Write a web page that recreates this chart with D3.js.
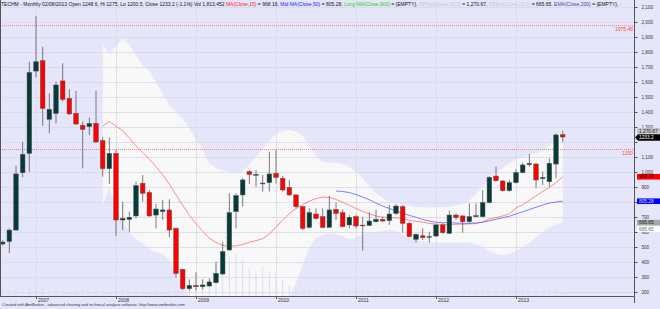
<!DOCTYPE html>
<html>
<head>
<meta charset="utf-8">
<script src="https://cdn.jsdelivr.net/npm/d3@7"></script>
<style>
  html, body { margin: 0; padding: 0; background: #e6e6fa; }
  svg { display: block; font-family: "Liberation Sans", Arial, sans-serif; }
</style>
</head>
<body>
<div id="chart"></div>
<script>
"use strict"

// TECHM monthly bars, Aug 2006 .. Aug 2013
var months = d3.timeMonth.range(new Date(2006, 7, 1), new Date(2013, 8, 1))

var open_px = [520, 537, 613, 995, 1124, 1673, 1742, 1351, 1391, 1607, 1491, 1391, 1311, 1302, 1324,
    1209, 1022, 1124, 680, 684, 707, 925, 864, 713, 736, 747, 624, 351, 222, 244,
    235, 240, 262, 320, 480, 736, 847, 1002, 978, 924, 929, 991, 958, 897, 847,
    769, 631, 720, 702, 631, 751, 729, 647, 702, 646, 644, 669, 684, 676, 724,
    769, 658, 551, 575, 567, 573, 647, 591, 713, 707, 669, 702, 702, 796, 973,
    940, 876, 929, 996, 1049, 1053, 956, 935, 1053, 1248.6]
var high_px = [545, 624, 1040, 1200, 1735, 2040, 1835, 1524, 1602, 1724, 1551, 1540, 1336, 1362, 1540,
    1231, 1231, 1147, 802, 735, 935, 980, 880, 787, 813, 818, 630, 355, 284, 331,
    284, 291, 402, 535, 858, 858, 958, 1013, 1013, 980, 1135, 1147, 975, 947, 851,
    773, 758, 758, 758, 840, 796, 751, 713, 713, 702, 735, 747, 702, 780, 787,
    780, 669, 591, 624, 602, 653, 658, 742, 724, 713, 791, 791, 880, 973, 1036,
    947, 947, 1018, 1062, 1120, 1062, 1002, 1091, 1258, 1275]
var low_px = [510, 460, 609, 965, 1002, 1631, 1307, 1258, 1324, 1469, 1380, 1313, 1024, 1247, 1196,
    969, 920, 573, 613, 602, 691, 802, 702, 624, 680, 564, 298, 213, 209, 209,
    218, 235, 258, 313, 475, 624, 769, 920, 902, 869, 869, 924, 869, 840, 758,
    613, 624, 680, 624, 631, 680, 631, 624, 624, 475, 640, 662, 669, 647, 713,
    596, 564, 529, 547, 529, 569, 587, 587, 680, 596, 658, 698, 698, 791, 935,
    869, 869, 924, 991, 1036, 891, 913, 902, 958, 1200.5]
var close_px = [533, 613, 987, 1118, 1664, 1735, 1424, 1418, 1580, 1484, 1387, 1320, 1284, 1324, 1200,
    1022, 1124, 680, 691, 698, 909, 858, 707, 753, 747, 613, 324, 222, 244, 235,
    247, 267, 324, 469, 729, 842, 947, 984, 984, 926, 987, 964, 880, 847, 769,
    624, 729, 691, 631, 747, 724, 636, 698, 640, 644, 673, 684, 673, 720, 773,
    658, 569, 584, 562, 570, 647, 596, 713, 696, 669, 702, 709, 796, 964, 942,
    876, 929, 996, 1047, 1058, 947, 964, 1058, 1247, 1233.2]
// volume, millions of shares
var volume = [4, 3, 5, 4, 6, 5, 4, 3, 3, 3, 2, 2, 3, 2, 3,
    3, 2, 4, 3, 2, 2, 2, 2, 2, 2, 3, 3, 3, 3, 4,
    5, 8, 15, 16, 20, 21, 18, 14, 11, 15, 12, 12, 8, 5, 4,
    4, 3, 3, 3, 3, 3, 3, 3, 3, 3, 3, 3, 3, 3, 3,
    3, 3, 3, 3, 3, 3, 3, 3, 3, 3, 3, 3, 3, 3, 3,
    3, 3, 3, 3, 3, 3, 3, 3, 3, 2]

// indicators (null = not drawn yet)
var ma15 = [null, null, null, null, null, null, null, null, null, null, null, null, null, null, null,
    1305, 1337, 1305, 1275, 1226, 1174, 1130, 1085, 1035, 982, 918, 848, 778, 712, 656,
    605, 558, 530, 510, 506, 507, 517, 531, 543, 555, 586, 632, 680, 722, 757,
    781, 806, 823, 833, 830, 817, 797, 778, 757, 738, 720, 707, 698, 697, 695,
    690, 678, 671, 666, 657, 653, 650, 650, 652, 652, 654, 656, 668, 687, 696,
    707, 722, 759, 783, 810, 841, 870, 896, 930, 968.16]
var ma50 = [null, null, null, null, null, null, null, null, null, null, null, null, null, null, null,
    null, null, null, null, null, null, null, null, null, null, null, null, null, null, null,
    null, null, null, null, null, null, null, null, null, null, null, null, null, null, null,
    null, null, null, null, null, 873, 870, 863, 850, 833, 815, 793, 773, 757, 740,
    725, 711, 698, 683, 673, 665, 662, 662, 660, 658, 658, 660, 665, 675, 685,
    695, 705, 720, 735, 750, 765, 780, 793, 800, 805.28]
var bb_top = [null, null, null, null, null, null, null, null, null, null, null, null, null, null, null,
    1847, 1787, 1840, 1890, 1847, 1773, 1713, 1673, 1600, 1520, 1447, 1400, 1353, 1287, 1220,
    1147, 1053, 1027, 1010, 1002, 991, 1007, 1047, 1100, 1153, 1207, 1253, 1273, 1280, 1270,
    1240, 1173, 1107, 1067, 1062, 1060, 1053, 1037, 1000, 960, 907, 857, 827, 803, 793,
    783, 773, 767, 765, 765, 765, 765, 768, 775, 787, 810, 853, 900, 963, 997,
    1027, 1055, 1085, 1100, 1115, 1125, 1140, 1180, 1235, 1270.67]
var bb_bot = [null, null, null, null, null, null, null, null, null, null, null, null, null, null, null,
    780, 893, 780, 667, 600, 553, 527, 487, 467, 453, 413, 313, 247, 167, 95,
    55, 30, 15, 5, 0, -5, 0, 10, 10, 20, 40, 80, 130, 167, 260,
    380, 500, 560, 580, 591, 587, 573, 553, 563, 583, 602, 602, 607, 613, 603,
    583, 557, 543, 538, 533, 530, 529, 529, 529, 529, 529, 520, 500, 473, 453,
    447, 453, 473, 500, 527, 563, 600, 630, 650, 665.65]

var y_ticks = d3.range(200, 2101, 100)
var y_hidden = [1200, 800]      // these labels sit under the price tags
var level_lines = [1975.48, 1150]

var settings = {
    width: 660,
    height: 309,
    plot_right: 634,
    plot_bottom: 296,
}

var svg = d3.select("#chart").append("svg")
    .attr("width", settings.width)
    .attr("height", settings.height)

svg.append("rect")
    .attr("width", settings.width).attr("height", settings.height)
    .attr("fill", "#e6e6fa")

svg.append("clipPath").attr("id", "plotclip")
    .append("rect")
    .attr("x", 1).attr("y", 0)
    .attr("width", settings.plot_right - 1).attr("height", settings.plot_bottom)

var x = d3.scaleLinear().domain([0, 84]).range([2.67, 562.7])
var y = d3.scaleLinear().domain([200, 2100]).range([292, 7])
var vol_y = d3.scaleLinear().domain([0, 25]).range([settings.plot_bottom, settings.plot_bottom - 50])

var idx = d3.range(months.length)
var plot = svg.append("g").attr("clip-path", "url(#plotclip)")

// bollinger band fill
var band = d3.area()
    .defined(function(i) { return bb_top[i] != null })
    .x(function(i) { return x(i) })
    .y0(function(i) { return y(bb_bot[i]) })
    .y1(function(i) { return y(bb_top[i]) })
plot.append("path").attr("d", band(idx)).attr("fill", "#f8f8f8")

// grid
plot.selectAll("line.hgrid").data(y_ticks).enter().append("line")
    .attr("class", "hgrid")
    .attr("x1", 0).attr("x2", settings.plot_right)
    .attr("y1", function(d) { return Math.round(y(d)) + 0.5 })
    .attr("y2", function(d) { return Math.round(y(d)) + 0.5 })
    .attr("stroke", "#d8d8e8").attr("stroke-width", 0.8)

var jan_idx = idx.filter(function(i) { return months[i].getMonth() === 0 })
plot.selectAll("line.vgrid").data(jan_idx).enter().append("line")
    .attr("class", "vgrid")
    .attr("x1", function(i) { return Math.round(x(i)) + 0.5 })
    .attr("x2", function(i) { return Math.round(x(i)) + 0.5 })
    .attr("y1", 0).attr("y2", settings.plot_bottom)
    .attr("stroke", "#d8d8e8").attr("stroke-width", 0.8)

// volume
plot.selectAll("line.vol").data(idx).enter().append("line")
    .attr("class", "vol")
    .attr("x1", function(i) { return x(i) }).attr("x2", function(i) { return x(i) })
    .attr("y1", settings.plot_bottom).attr("y2", function(i) { return vol_y(volume[i]) })
    .attr("stroke", "#dcdcf2").attr("stroke-width", 1)

// level lines
plot.selectAll("line.level").data(level_lines).enter().append("line")
    .attr("class", "level")
    .attr("x1", 0).attr("x2", settings.plot_right)
    .attr("y1", function(d) { return y(d) }).attr("y2", function(d) { return y(d) })
    .attr("stroke", "#ff5050").attr("stroke-width", 0.7)
    .attr("stroke-dasharray", "1,1")

// moving averages
function ma_line(arr) {
    return d3.line()
        .defined(function(i) { return arr[i] != null })
        .x(function(i) { return x(i) })
        .y(function(i) { return y(arr[i]) })
}
plot.append("path").attr("d", ma_line(ma15)(idx))
    .attr("fill", "none").attr("stroke", "#ff7070").attr("stroke-width", 0.8)
plot.append("path").attr("d", ma_line(ma50)(idx))
    .attr("fill", "none").attr("stroke", "#6060ff").attr("stroke-width", 0.8)

// candles
var body_w = 4.6
var candles = plot.selectAll("g.candle").data(idx).enter().append("g").attr("class", "candle")
candles.append("line")
    .attr("x1", function(i) { return x(i) }).attr("x2", function(i) { return x(i) })
    .attr("y1", function(i) { return y(high_px[i]) })
    .attr("y2", function(i) { return y(low_px[i]) })
    .attr("stroke", "#5a5a5a").attr("stroke-width", 0.8)
candles.append("rect")
    .attr("x", function(i) { return x(i) - body_w / 2 })
    .attr("width", body_w)
    .attr("y", function(i) { return y(Math.max(open_px[i], close_px[i])) })
    .attr("height", function(i) { return Math.max(0.8, Math.abs(y(open_px[i]) - y(close_px[i]))) })
    .attr("fill", function(i) { return close_px[i] >= open_px[i] ? "#053c3a" : "#ff0000" })
    .attr("stroke", "#555").attr("stroke-width", 0.5)

// level labels
svg.append("text").attr("x", 633).attr("y", y(1975.48) + 5.5)
    .attr("text-anchor", "end").attr("font-size", 5).attr("fill", "#ff4040").text("1975.48")
svg.append("text").attr("x", 633).attr("y", y(1150) + 5.5)
    .attr("text-anchor", "end").attr("font-size", 5).attr("fill", "#ff4040").text("1150")

// axes
svg.append("line").attr("x1", 0.5).attr("x2", 0.5).attr("y1", 0).attr("y2", settings.plot_bottom)
    .attr("stroke", "#555")
svg.append("line").attr("x1", 0).attr("x2", settings.plot_right)
    .attr("y1", settings.plot_bottom + 0.5).attr("y2", settings.plot_bottom + 0.5)
    .attr("stroke", "#555")

var yaxis = d3.axisRight(y).tickValues(y_ticks).tickSize(3).tickPadding(4)
    .tickFormat(function(d) { return y_hidden.indexOf(d) >= 0 ? "" : d3.format(",")(d) })
var gy = svg.append("g")
    .attr("transform", "translate(" + (settings.plot_right + 0.5) + ",0)")
    .call(yaxis)
gy.select(".domain").remove()
gy.selectAll("line").attr("stroke", "#555")
gy.selectAll("text").attr("font-size", 4.6).attr("fill", "#333")
    .attr("font-family", "Liberation Sans, Arial, sans-serif")
svg.append("line").attr("x1", settings.plot_right + 0.5).attr("x2", settings.plot_right + 0.5)
    .attr("y1", 0).attr("y2", 303).attr("stroke", "#555")

var xticks = svg.selectAll("g.xtick").data(jan_idx).enter().append("g").attr("class", "xtick")
    .attr("transform", function(i) { return "translate(" + (Math.round(x(i)) + 0.5) + "," + settings.plot_bottom + ")" })
xticks.append("line").attr("y1", 0).attr("y2", 3).attr("stroke", "#555")
xticks.append("text").attr("x", 1.5).attr("y", 5.5).attr("font-size", 5).attr("fill", "#333")
    .text(function(i) { return months[i].getFullYear() })

// price tags on the right axis
var tags = [
    { v: 1270.67, text: "1,270.67", bg: "#c4c4c4", fg: "#222", dy: -0.5 },
    { v: 1233.2, text: "1233.2", bg: "#000", fg: "#fff", dy: 0.5, arrow: true },
    { v: 968.16, text: "968.16", bg: "#ff0000", fg: "#300", dy: 0 },
    { v: 805.28, text: "805.28", bg: "#0000ff", fg: "#ddd", dy: 0 },
    { v: 665.65, text: "665.65", bg: "#a8a8a8", fg: "#222", dy: 0.5 },
    { v: 665.65, text: "665.65", bg: "#ffffff", fg: "#666", dy: 7 },
]
var tg = svg.selectAll("g.tag").data(tags).enter().append("g").attr("class", "tag")
    .attr("transform", function(d) { return "translate(0," + (y(d.v) + d.dy) + ")" })
tg.append("path")
    .attr("d", function(d) {
        return d.arrow ? "M635,0 L638,-3.2 L660,-3.2 L660,3.2 L638,3.2 Z" : "M637,-2.8 L660,-2.8 L660,2.8 L637,2.8 Z"
    })
    .attr("fill", function(d) { return d.bg })
tg.append("text").attr("x", 639).attr("y", 1.7).attr("font-size", 4.8)
    .attr("fill", function(d) { return d.fg }).text(function(d) { return d.text })

// title
var title = svg.append("text").attr("x", 1).attr("y", 6).attr("font-size", 5).attr("fill", "#111")
var parts = [
    ["TECHM - Monthly 02/08/2013 Open 1248.6, Hi 1275, Lo 1200.5, Close 1233.2 (-1.1%) Vol 1,813,452 ", "#111"],
    ["MA(Close,15)", "#ff2020"], [" = 968.16, ", "#111"],
    ["Mid MA(Close,50)", "#2020ff"], [" = 805.28, ", "#111"],
    ["Long MA(Close,900)", "#20d020"], [" = {EMPTY}, ", "#111"],
    ["BBTop(Close,15,2)", "#c8c8c8"], [" = 1,270.67, ", "#111"],
    ["BBBot(Close,15,2)", "#c8c8c8"], [" = 665.65, ", "#111"],
    ["EMA(Close,200)", "#4040a0"], [" = {EMPTY}, ", "#111"],
    ["\u2193", "#e0b000"],
]
parts.forEach(function(p) { title.append("tspan").attr("fill", p[1]).text(p[0]) })

// footer
svg.append("text").attr("x", 2).attr("y", 306).attr("font-size", 4).attr("fill", "#333")
    .text("Created with AmiBroker - advanced charting and technical analysis software. http://www.amibroker.com")
</script>
</body>
</html>
